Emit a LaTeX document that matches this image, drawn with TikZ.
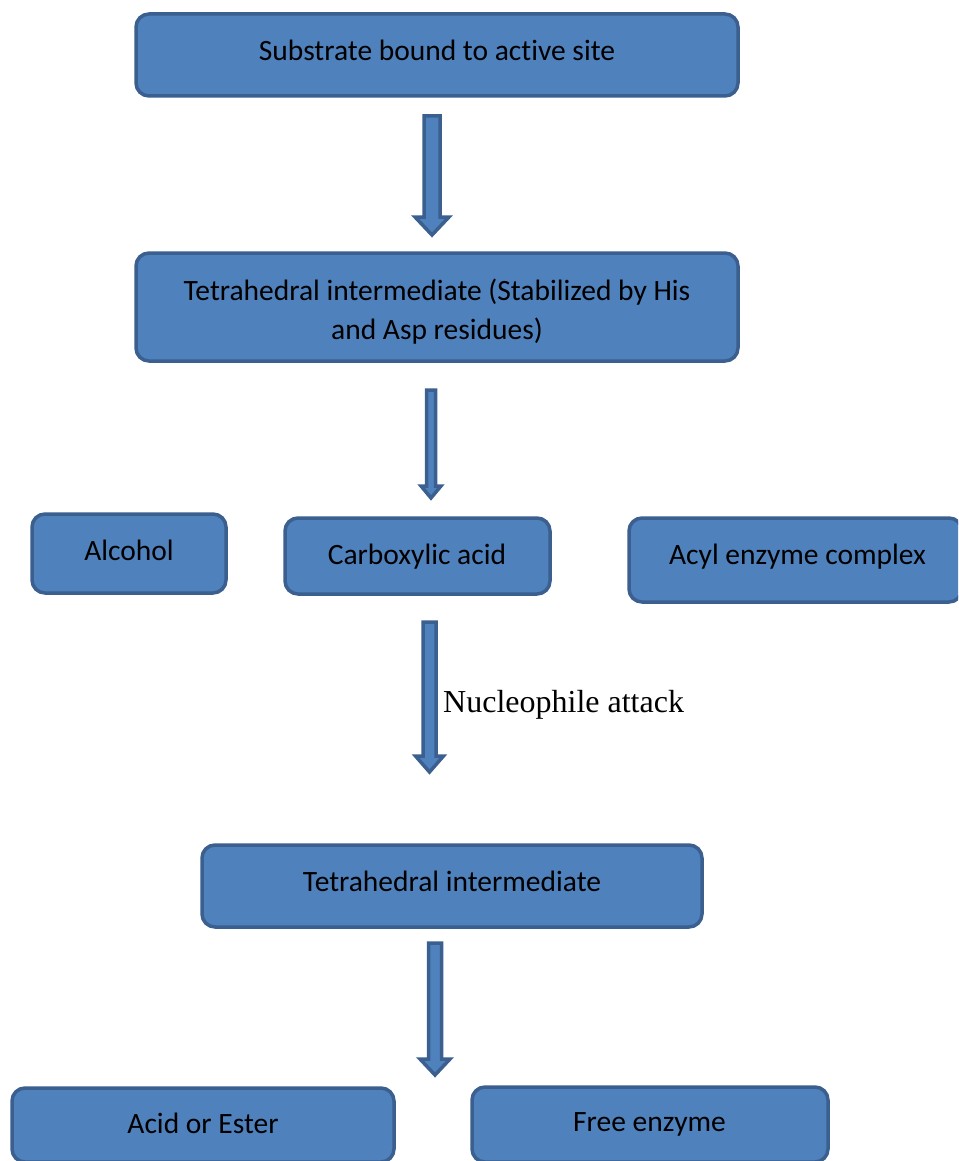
\documentclass[tikz,border=0pt]{standalone}
\usepackage{fontspec}
\setmainfont{Carlito}[Ligatures=NoCommon]
\newfontfamily\serifnote{Liberation Serif}
\usetikzlibrary{calc}
\definecolor{boxfill}{HTML}{4F81BD}
\definecolor{boxline}{HTML}{3B6090}
\tikzset{
  box/.style={draw=boxline, fill=boxfill, line width=3.5pt, rounded corners=13pt, inner sep=0pt},
  lbl/.style={inner sep=0pt, align=center, font=\fontsize{29.5}{39}\selectfont, text=black},
  blockarrow/.style={draw=boxline, fill=boxfill, line width=3.5pt, line join=miter},
}
\newcommand\barrow[5]{%
  \draw[blockarrow] let \p1=(#1), \p2=(#2) in
    (\x1-#3,\y1) -- (\x1+#3,\y1) -- (\x1+#3,\y2+#5) -- (\x1+#4,\y2+#5) --
    (\x2,\y2) -- (\x1-#4,\y2+#5) -- (\x1-#3,\y2+#5) -- cycle;}
\begin{document}
\begin{tikzpicture}[x=1pt,y=-1pt]
\useasboundingbox (0,0) rectangle (958,1161);
\clip (0,0) rectangle (958,1161);
\node[box, minimum width=602, minimum height=82] (sub) at (437,55) {};
\node[box, minimum width=602, minimum height=108] (tet1) at (437,307) {};
\node[box, minimum width=194, minimum height=79] (alc) at (129,553.5) {};
\node[box, minimum width=265, minimum height=76] (carb) at (417.5,556) {};
\node[box, minimum width=333, minimum height=84] (acyl) at (795.5,560) {};
\node[box, minimum width=500, minimum height=82] (tet2) at (452,886) {};
\node[box, minimum width=382, minimum height=74] (acid) at (203,1125) {};
\node[box, minimum width=356, minimum height=75] (free) at (650,1124.5) {};
\node[lbl] (subt) at (437,50.5) {Substrate bound to active site};
\node[lbl] (tet1t) at (437,311.5) {Tetrahedral intermediate (Stabilized by His\\and Asp residues)};
\node[lbl] (alct) at (129,550.5) {Alcohol};
\node[lbl] (carbt) at (417,557) {Carboxylic acid};
\node[lbl] (acylt) at (797.5,557) {Acyl enzyme complex};
\node[lbl] (tet2t) at (452,881.5) {Tetrahedral intermediate};
\node[lbl] (acidt) at (203,1123.5) {Acid or Ester};
\node[lbl] (freet) at (649.5,1124.5) {Free enzyme};
\node[font=\serifnote\fontsize{32}{36}\selectfont, anchor=west, inner sep=0pt] (nuc) at (443,705) {Nucleophile attack};
\coordinate (a1s) at (432,116);
\coordinate (a1e) at (432,235);
\coordinate (a2s) at (431,390);
\coordinate (a2e) at (431,498);
\coordinate (a3s) at (429.5,622);
\coordinate (a3e) at (429.5,772);
\coordinate (a4s) at (435,943);
\coordinate (a4e) at (435,1075);
\barrow{a1s}{a1e}{8}{17}{18}
\barrow{a2s}{a2e}{4.5}{10}{12}
\barrow{a3s}{a3e}{6.5}{14}{16}
\barrow{a4s}{a4e}{6.5}{15}{16}
\end{tikzpicture}
\end{document}
